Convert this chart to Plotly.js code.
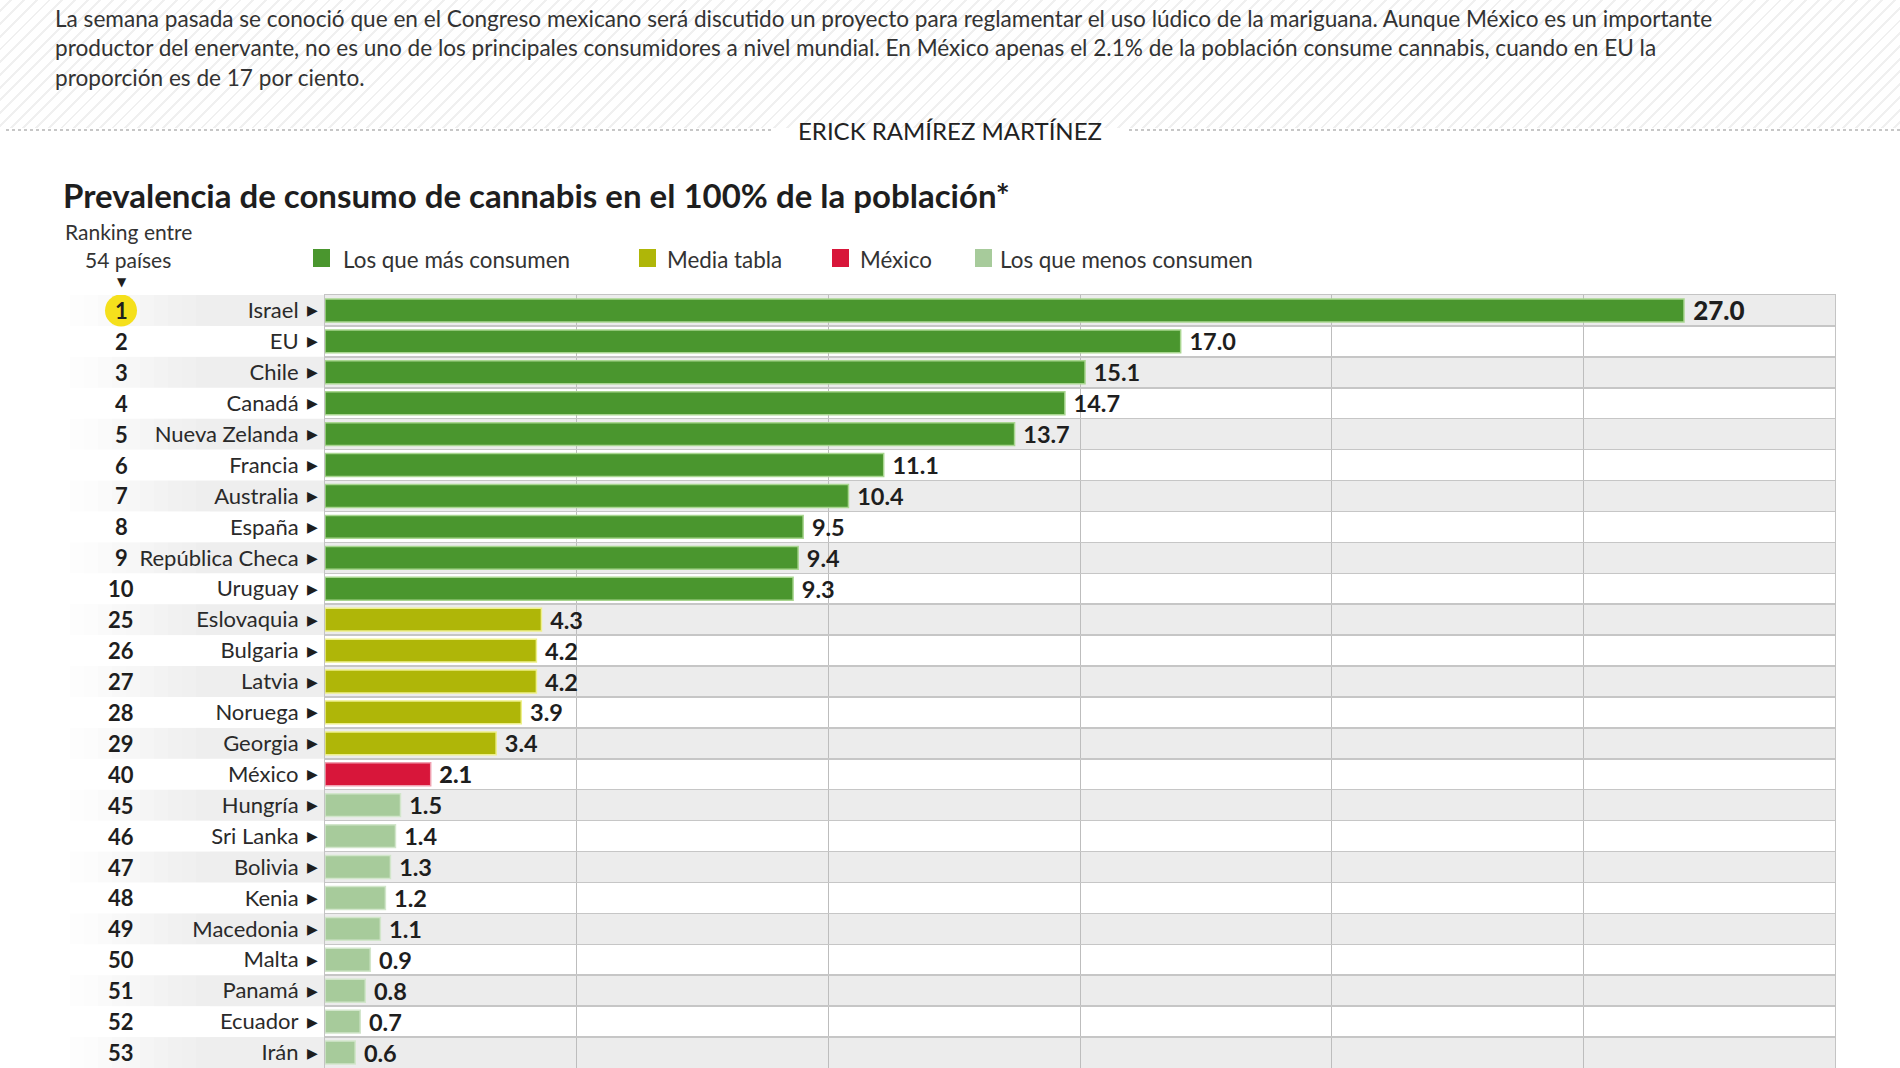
<!DOCTYPE html>
<html>
<head>
<meta charset="utf-8">
<script src="https://cdn.plot.ly/plotly-3.0.1.min.js"></script>
<style>
  html, body { margin: 0; padding: 0; background: #ffffff; }
  #wrap { position: relative; width: 1900px; height: 1068px; overflow: hidden; }
  #hatch { position: absolute; left: 0; top: 0; width: 1900px; height: 128px;
    background: repeating-linear-gradient(135deg, #ffffff 0px, #ffffff 7px, #f0f0f0 7px, #f0f0f0 9px); }
  #chart { position: absolute; left: 0; top: 0; width: 1900px; height: 1068px; }
</style>
</head>
<body>
<div id="wrap"><div id="hatch"></div><div id="chart"></div></div>
<script>
// ---------------- data ----------------
const ranks = [1, 2, 3, 4, 5, 6, 7, 8, 9, 10, 25, 26, 27, 28, 29, 40, 45, 46, 47, 48, 49, 50, 51, 52, 53];
const countries = ['Israel', 'EU', 'Chile', 'Canadá', 'Nueva Zelanda', 'Francia', 'Australia', 'España',
  'República Checa', 'Uruguay', 'Eslovaquia', 'Bulgaria', 'Latvia', 'Noruega', 'Georgia', 'México',
  'Hungría', 'Sri Lanka', 'Bolivia', 'Kenia', 'Macedonia', 'Malta', 'Panamá', 'Ecuador', 'Irán'];
const values = [27.0, 17.0, 15.1, 14.7, 13.7, 11.1, 10.4, 9.5, 9.4, 9.3, 4.3, 4.2, 4.2, 3.9, 3.4, 2.1,
  1.5, 1.4, 1.3, 1.2, 1.1, 0.9, 0.8, 0.7, 0.6];
const groups = ['mas', 'mas', 'mas', 'mas', 'mas', 'mas', 'mas', 'mas', 'mas', 'mas',
  'media', 'media', 'media', 'media', 'media', 'mexico',
  'menos', 'menos', 'menos', 'menos', 'menos', 'menos', 'menos', 'menos', 'menos'];
const groupKeys = ['mas', 'media', 'mexico', 'menos'];
const groupLabels = ['Los que más consumen', 'Media tabla', 'México', 'Los que menos consumen'];

const titleText = 'Prevalencia de consumo de cannabis en el 100% de la población*';
const introLines = [
  'La semana pasada se conoció que en el Congreso mexicano será discutido un proyecto para reglamentar el uso lúdico de la mariguana. Aunque México es un importante',
  'productor del enervante, no es uno de los principales consumidores a nivel mundial. En México apenas el 2.1% de la población consume cannabis, cuando en EU la',
  'proporción es de 17 por ciento.'
];
const author = 'ERICK RAMÍREZ MARTÍNEZ';
const rankingLabel = ['Ranking entre', '54 países'];

// ---------------- styles ----------------
const FONT = 'Lato, "Open Sans", sans-serif';
const colors = { mas: '#4a962e', media: '#afb608', mexico: '#d8163a', menos: '#a7cb9b' };
const edge = { mas: '#a9d690', media: '#eef08a', mexico: '#f0a0b0', menos: '#d2e6cb' };

const W = 1900, H = 1068;
const M = { l: 325, r: 65, t: 295, b: 0 };
const PW = W - M.l - M.r, PH = H - M.t - M.b;
const px = p => (p - M.l) / PW;           // pixel x -> paper x
const py = p => (H - M.b - p) / PH;       // pixel y -> paper y

const trace = {
  type: 'bar',
  orientation: 'h',
  y: countries,
  x: values,
  width: 0.74,
  marker: {
    color: groups.map(g => colors[g]),
    line: { color: groups.map(g => edge[g]), width: 1.5 }
  },
  text: values.map(v => '\u00A0' + v.toFixed(1)),
  textposition: 'outside',
  constraintext: 'none',
  cliponaxis: false,
  textfont: {
    family: FONT,
    size: values.map((v, i) => (i === 0 ? 26 : 23.5)),
    color: '#1e1e1e',
    weight: values.map((v, i) => (i === 0 || groups[i] === 'mexico' ? 900 : 700))
  },
  hoverinfo: 'skip',
  showlegend: false
};

const shapes = [];
const annotations = [];

// row bands
countries.forEach((c, i) => {
  if (i % 2 === 0) {
    shapes.push({ type: 'rect', layer: 'below', xref: 'paper', yref: 'y', x0: 0, x1: 1, y0: i - 0.5, y1: i + 0.5,
      fillcolor: '#ececec', line: { width: 0 } });
    const steps = 10, a = 70, b = 210;
    for (let s = 0; s < steps; s++) {
      const t = (s + 1) / steps;
      const g = Math.round(255 - (255 - 238) * t);
      shapes.push({ type: 'rect', layer: 'below', xref: 'paper', yref: 'y',
        x0: px(a + (b - a) * s / steps), x1: px(a + (b - a) * (s + 1) / steps), y0: i - 0.5, y1: i + 0.5,
        fillcolor: `rgb(${g},${g},${g})`, line: { width: 0 } });
    }
    shapes.push({ type: 'rect', layer: 'below', xref: 'paper', yref: 'y', x0: px(b), x1: 0, y0: i - 0.5, y1: i + 0.5,
      fillcolor: '#eeeeee', line: { width: 0 } });
  }
});

// highlight circle for rank 1
shapes.push({ type: 'circle', layer: 'below', xref: 'paper', yref: 'y', xsizemode: 'pixel', ysizemode: 'pixel',
  xanchor: px(121), yanchor: 0, x0: -16, x1: 16, y0: -16, y1: 16, fillcolor: '#f5e01c', line: { width: 0 } });

// rank numbers and pointer triangles
countries.forEach((c, i) => {
  annotations.push({ xref: 'paper', yref: 'y', x: px(121), y: i, text: String(ranks[i]), showarrow: false,
    xanchor: 'center', yanchor: 'middle', font: { family: FONT, size: 22, color: '#1e1e1e', weight: 700 } });
  annotations.push({ xref: 'paper', yref: 'y', x: px(312), y: i, text: '▶', showarrow: false,
    xanchor: 'center', yanchor: 'middle', font: { family: 'DejaVu Sans', size: 14, color: '#1e1e1e' } });
});

// header text
annotations.push({ xref: 'paper', yref: 'paper', x: px(53), y: py(48), text: introLines.join('<br>'),
  showarrow: false, xanchor: 'left', yanchor: 'middle', align: 'left',
  font: { family: FONT, size: 22.6, color: '#333333' } });
annotations.push({ xref: 'paper', yref: 'paper', x: px(950), y: py(130), text: author, showarrow: false,
  xanchor: 'center', yanchor: 'middle', font: { family: FONT, size: 24, color: '#222222' } });
shapes.push({ type: 'line', xref: 'paper', yref: 'paper', x0: px(6), x1: px(772), y0: py(130), y1: py(130),
  line: { color: '#b5b5b5', width: 1.5, dash: 'dot' } });
shapes.push({ type: 'line', xref: 'paper', yref: 'paper', x0: px(1129), x1: px(1900), y0: py(130), y1: py(130),
  line: { color: '#b5b5b5', width: 1.5, dash: 'dot' } });

annotations.push({ xref: 'paper', yref: 'paper', x: px(61), y: py(195), text: '<b>' + titleText + '</b>',
  showarrow: false, xanchor: 'left', yanchor: 'middle', font: { family: FONT, size: 33, color: '#1e1e1e' } });
annotations.push({ xref: 'paper', yref: 'paper', x: px(63), y: py(231), text: rankingLabel[0], showarrow: false,
  xanchor: 'left', yanchor: 'middle', font: { family: FONT, size: 21, color: '#333333' } });
annotations.push({ xref: 'paper', yref: 'paper', x: px(83), y: py(259), text: rankingLabel[1], showarrow: false,
  xanchor: 'left', yanchor: 'middle', font: { family: FONT, size: 21, color: '#333333' } });
annotations.push({ xref: 'paper', yref: 'paper', x: px(122), y: py(282), text: '▼', showarrow: false,
  xanchor: 'center', yanchor: 'middle', font: { family: 'DejaVu Sans', size: 12, color: '#1e1e1e' } });

// legend
const legSq = [313, 639, 832, 975];
const legTx = [341, 665, 858, 998];
groupKeys.forEach((g, k) => {
  shapes.push({ type: 'rect', xref: 'paper', yref: 'paper', x0: px(legSq[k]), x1: px(legSq[k] + 17),
    y0: py(249), y1: py(267), fillcolor: colors[g], line: { width: 0 } });
  annotations.push({ xref: 'paper', yref: 'paper', x: px(legTx[k]), y: py(259), text: groupLabels[k],
    showarrow: false, xanchor: 'left', yanchor: 'middle', font: { family: FONT, size: 22.4, color: '#333333' } });
});

const layout = {
  width: W, height: H,
  margin: M,
  paper_bgcolor: 'rgba(0,0,0,0)',
  plot_bgcolor: '#ffffff',
  bargap: 0.26,
  xaxis: {
    range: [0, 30], dtick: 5, tick0: 0, showgrid: true, gridcolor: '#bdbdbd', gridwidth: 1,
    zeroline: false, showticklabels: false, ticks: '', showline: true, mirror: true, linecolor: '#c4c4c4',
    fixedrange: true
  },
  yaxis: {
    type: 'category', autorange: false, range: [countries.length - 0.5, -0.5],
    tickson: 'boundaries', showgrid: true, gridcolor: '#c6c6c6', gridwidth: 1.5,
    ticks: '', ticklabelstandoff: 21, showline: true, mirror: true, linecolor: '#c4c4c4',
    tickfont: { family: FONT, size: 22, color: '#2a2a2a' }, fixedrange: true
  },
  shapes: shapes,
  annotations: annotations,
  font: { family: FONT }
};

Plotly.newPlot('chart', [trace], layout, { displayModeBar: false, staticPlot: true });
</script>
</body>
</html>
